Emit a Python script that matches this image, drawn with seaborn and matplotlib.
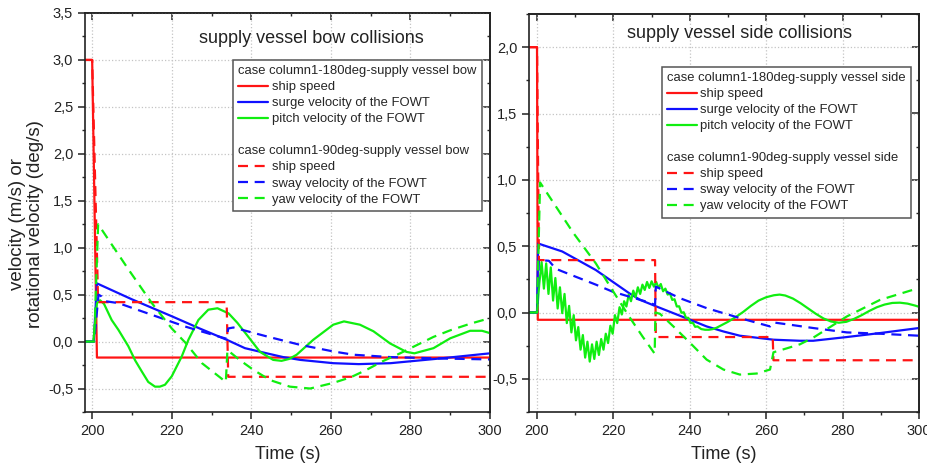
import matplotlib
matplotlib.use("Agg")
import matplotlib.pyplot as plt
import numpy as np
import pandas as pd
import seaborn as sns
from matplotlib.lines import Line2D
from matplotlib.ticker import FuncFormatter, MultipleLocator

sns.set_theme(style="ticks")
plt.rcParams['font.family'] = ['Liberation Sans', 'DejaVu Sans']

# ---------------- data: (time s, value) ----------------
# supply vessel bow collisions
bow_ship180 = [(198.2, 3.0), (200.0, 3.0), (201.2, -0.17), (300.0, -0.17)]
bow_surge = [(198.2, 0.0), (200.4, 0.0), (201.2, 0.62), (210.0, 0.45), (220.0, 0.27), (227.0, 0.14),
             (234.0, 0.016), (238.4, -0.07), (243.9, -0.125), (248.0, -0.165), (252.3, -0.195),
             (260.6, -0.23), (267.0, -0.24), (275.0, -0.23), (287.4, -0.18), (300.0, -0.125)]
bow_pitch = [(198.2, 0.0), (200.3, 0.0), (201.2, 0.41), (202.0, 0.44), (203.0, 0.40), (204.9, 0.23),
             (206.6, 0.125), (209.1, -0.05), (210.8, -0.2), (212.5, -0.32), (214.1, -0.43),
             (215.8, -0.48), (217.0, -0.48), (218.3, -0.46), (220.0, -0.37), (222.5, -0.16),
             (224.2, 0.02), (226.7, 0.23), (229.2, 0.34), (231.5, 0.355), (234.3, 0.30),
             (236.5, 0.2), (238.9, 0.07), (242.2, -0.11), (245.5, -0.195), (247.6, -0.205),
             (249.5, -0.185), (251.4, -0.14), (255.6, 0.02), (260.6, 0.18), (263.3, 0.215),
             (267.3, 0.18), (270.7, 0.11), (274.9, -0.02), (279.0, -0.11), (281.0, -0.125),
             (285.8, -0.07), (290.0, 0.035), (295.0, 0.115), (298.0, 0.115), (300.0, 0.09)]
bow_ship90 = [(198.2, 3.0), (200.0, 3.0), (201.5, 0.42), (233.8, 0.42), (234.2, -0.375), (300.0, -0.375)]
bow_sway = [(198.2, 0.0), (200.5, 0.0), (201.6, 0.5), (202.4, 0.48), (203.3, 0.43), (206.6, 0.41),
            (215.0, 0.285), (223.4, 0.16), (231.7, 0.055), (233.8, 0.03), (234.2, 0.14),
            (235.5, 0.15), (243.9, 0.055), (252.3, -0.035), (260.6, -0.105), (265.7, -0.14),
            (274.9, -0.165), (287.4, -0.18), (300.0, -0.19)]
bow_yaw = [(198.2, 0.0), (200.5, 0.0), (201.5, 1.25), (209.1, 0.77), (215.0, 0.41), (220.0, 0.14),
           (223.4, -0.01), (227.6, -0.23), (233.6, -0.43), (234.0, -0.09), (237.2, -0.2),
           (240.5, -0.30), (244.7, -0.41), (249.7, -0.48), (254.8, -0.5), (260.6, -0.44),
           (265.0, -0.38), (269.0, -0.30), (273.0, -0.21), (277.4, -0.125), (281.0, -0.05),
           (285.8, 0.05), (290.0, 0.12), (295.0, 0.19), (300.0, 0.25)]

# supply vessel side collisions
side_ship180 = [(197.9, 2.0), (200.0, 2.0), (200.2, -0.055), (300.0, -0.055)]
side_surge = [(197.9, 0.0), (200.0, 0.0), (200.3, 0.52), (206.6, 0.46), (215.4, 0.32), (224.1, 0.146),
              (227.0, 0.095), (231.3, 0.045), (235.7, -0.005), (240.1, -0.055), (244.4, -0.105),
              (248.8, -0.143), (253.1, -0.175), (257.5, -0.19), (261.9, -0.205), (268.8, -0.213),
              (272.3, -0.213), (281.1, -0.185), (289.8, -0.155), (300.0, -0.117)]
side_pitch = [(197.9, 0.0), (200.0, 0.0), (200.6, 0.22), (201.2, 0.38), (201.8, 0.18), (202.4, 0.37),
              (203.0, 0.14), (203.6, 0.34), (204.2, 0.09), (204.8, 0.26), (205.4, 0.03), (206.0, 0.19),
              (206.6, -0.005), (207.2, 0.14), (207.8, -0.08), (208.4, 0.05), (209.0, -0.15),
              (209.6, -0.02), (210.2, -0.21), (210.8, -0.11), (211.4, -0.28), (212.0, -0.17),
              (212.6, -0.34), (213.2, -0.22), (213.8, -0.37), (214.4, -0.24), (215.0, -0.35),
              (215.6, -0.22), (216.2, -0.32), (216.8, -0.20), (217.4, -0.28), (218.0, -0.16),
              (218.6, -0.23), (219.2, -0.10), (219.8, -0.16), (220.4, -0.02), (221.0, -0.08),
              (221.6, 0.04), (222.2, -0.015), (222.8, 0.085), (223.4, 0.045), (224.0, 0.135),
              (224.6, 0.085), (225.2, 0.165), (225.8, 0.115), (226.4, 0.19), (227.0, 0.14),
              (227.6, 0.21), (228.2, 0.17), (228.8, 0.23), (229.4, 0.185), (230.0, 0.235),
              (230.6, 0.195), (231.2, 0.23), (231.8, 0.185), (232.4, 0.215), (233.0, 0.16),
              (233.6, 0.18), (234.2, 0.135), (234.8, 0.145), (235.4, 0.095), (236.0, 0.10),
              (236.6, 0.045), (237.2, 0.047), (237.8, -0.002), (238.4, 0.002), (239.0, -0.04),
              (239.6, -0.04), (240.2, -0.08), (240.8, -0.077), (241.4, -0.108), (242.0, -0.105),
              (243.0, -0.125), (244.0, -0.13), (245.0, -0.13), (246.0, -0.125), (247.0, -0.115),
              (248.0, -0.10), (249.0, -0.085), (250.0, -0.07), (252.0, -0.035), (254.0, 0.005),
              (256.0, 0.05), (258.0, 0.09), (260.0, 0.115), (262.0, 0.13), (263.5, 0.135),
              (265.0, 0.128), (267.0, 0.105), (269.0, 0.07), (271.0, 0.03), (273.0, -0.01),
              (275.0, -0.045), (277.0, -0.068), (279.0, -0.077), (281.0, -0.07), (283.0, -0.048),
              (285.0, -0.02), (287.0, 0.012), (289.0, 0.04), (291.0, 0.06), (293.0, 0.072),
              (295.0, 0.074), (297.0, 0.067), (299.0, 0.052), (300.0, 0.043)]
side_ship90 = [(197.9, 2.0), (200.0, 2.0), (200.5, 0.395), (230.9, 0.395), (231.1, -0.185),
               (261.7, -0.185), (261.9, -0.36), (300.0, -0.36)]
side_sway = [(197.9, 0.0), (200.0, 0.0), (200.5, 0.395), (203.1, 0.39), (204.9, 0.33), (206.6, 0.31),
             (210.1, 0.27), (215.4, 0.21), (219.7, 0.158), (224.1, 0.12), (228.5, 0.083),
             (230.9, 0.058), (231.1, 0.195), (237.4, 0.108), (244.4, 0.033), (253.1, -0.042),
             (261.0, -0.105), (261.9, -0.075), (266.2, -0.092), (272.3, -0.117), (281.1, -0.15),
             (289.8, -0.16), (300.0, -0.175)]
side_yaw = [(197.9, 0.0), (200.0, 0.0), (200.8, 0.98), (209.5, 0.6), (215.4, 0.37), (219.7, 0.17),
            (224.1, -0.03), (227.6, -0.18), (230.8, -0.31), (231.0, 0.0), (232.2, -0.01),
            (235.7, -0.105), (240.1, -0.23), (244.4, -0.355), (248.8, -0.43), (253.1, -0.468),
            (257.5, -0.46), (261.0, -0.43), (261.9, -0.30), (265.4, -0.27), (268.8, -0.24),
            (272.3, -0.19), (276.7, -0.11), (281.1, -0.03), (289.8, 0.095), (300.0, 0.185)]

bow_labels = ["case column1-180deg-supply vessel bow", "ship speed", "surge velocity of the FOWT",
              "pitch velocity of the FOWT", "", "case column1-90deg-supply vessel bow", "ship speed",
              "sway velocity of the FOWT", "yaw velocity of the FOWT"]
side_labels = ["case column1-180deg-supply vessel side", "ship speed", "surge velocity of the FOWT",
               "pitch velocity of the FOWT", "", "case column1-90deg-supply vessel side", "ship speed",
               "sway velocity of the FOWT", "yaw velocity of the FOWT"]
titles = ["supply vessel bow collisions", "supply vessel side collisions"]
x_ticks = [200, 220, 240, 260, 280, 300]

RED, BLUE, GREEN = "#ff1414", "#1010ff", "#10ee10"
DASH = (4.5, 3.0)
LW = 1.6

fig = plt.figure(figsize=(9.28, 4.68), dpi=100)
axL = fig.add_axes([85 / 928, 56 / 468, 405 / 928, 399 / 468])
axR = fig.add_axes([529 / 928, 56 / 468, 390 / 928, 398 / 468])

comma = FuncFormatter(lambda v, p: f"{v:.1f}".replace(".", ","))


def draw(ax, series, color, dashed):
    t, v = zip(*series)
    df = pd.DataFrame({"t": t, "v": v})
    sns.lineplot(data=df, x="t", y="v", ax=ax, color=color, lw=LW,
                 estimator=None, sort=False)
    line = ax.lines[-1]
    if dashed:
        line.set_dashes(DASH)
    return line


def style_axes(ax, xlim, ylim, yticks):
    ax.set_xlim(*xlim)
    ax.set_ylim(*ylim)
    ax.set_xticks(x_ticks)
    ax.xaxis.set_minor_locator(MultipleLocator(10))
    ax.set_yticks(yticks)
    ax.yaxis.set_minor_locator(MultipleLocator(0.25))
    ax.yaxis.set_major_formatter(comma)
    ax.grid(True, which="major", color="#c4c4c4", linestyle=":", linewidth=0.9)
    ax.set_axisbelow(True)
    ax.tick_params(which="major", direction="out", length=5, width=1.1, labelsize=10.5,
                   colors="#222222")
    ax.tick_params(which="minor", direction="out", length=2.5, width=1.0)
    for s in ax.spines.values():
        s.set_color("#222222")
        s.set_linewidth(1.2)
        s.set_visible(True)
    secy = ax.secondary_yaxis("right")
    secy.set_yticks(yticks)
    secy.yaxis.set_minor_locator(MultipleLocator(0.25))
    secy.tick_params(which="major", direction="in", length=5, width=1.1, labelright=False,
                     colors="#222222")
    secy.tick_params(which="minor", direction="in", length=2.5, width=1.0)
    secy.spines["right"].set_linewidth(1.2)
    secy.spines["right"].set_color("#222222")
    secx = ax.secondary_xaxis("top")
    secx.set_xticks(x_ticks)
    secx.xaxis.set_minor_locator(MultipleLocator(10))
    secx.tick_params(which="major", direction="in", length=5, width=1.1, labeltop=False,
                     colors="#222222")
    secx.tick_params(which="minor", direction="in", length=2.5, width=1.0)
    secx.spines["top"].set_linewidth(1.2)
    secx.spines["top"].set_color("#222222")
    ax.set_xlabel("Time (s)", fontsize=13, color="#222222", labelpad=6)


def make_legend(ax, lines, labels, anchor):
    blank = Line2D([], [], alpha=0)
    handles = [blank, lines[0], lines[1], lines[2], blank, blank, lines[3], lines[4], lines[5]]
    leg = ax.legend(handles, labels, loc="upper right", bbox_to_anchor=anchor,
                    borderaxespad=0, fontsize=9.4, handlelength=2.3, handletextpad=0.25,
                    labelspacing=0.3, borderpad=0.4, fancybox=False, framealpha=1,
                    edgecolor="#555555", frameon=True)
    leg.get_frame().set_linewidth(1.1)
    # title rows: drop the handle area so the text sits flush left
    for col in leg._legend_handle_box.get_children():
        for i, item in enumerate(col.get_children()):
            if i in (0, 5):
                item._children = [item._children[1]]
    return leg


# ---- left panel ----
L = [draw(axL, bow_ship180, RED, False), draw(axL, bow_surge, BLUE, False),
     draw(axL, bow_pitch, GREEN, False), draw(axL, bow_ship90, RED, True),
     draw(axL, bow_sway, BLUE, True), draw(axL, bow_yaw, GREEN, True)]
style_axes(axL, (198.2, 300), (-0.75, 3.5), np.arange(-0.5, 3.51, 0.5))
axL.set_ylabel("velocity (m/s) or\nrotational velocity (deg/s)", fontsize=13.5, color="#222222",
               linespacing=1.1)
axL.yaxis.set_label_coords(-0.1, 0.47)
axL.text(0.56, 0.937, titles[0], transform=axL.transAxes, ha="center", va="center",
         fontsize=13, color="#222222")
make_legend(axL, L, bow_labels, (0.98, 0.882))

# ---- right panel ----
R = [draw(axR, side_ship180, RED, False), draw(axR, side_surge, BLUE, False),
     draw(axR, side_pitch, GREEN, False), draw(axR, side_ship90, RED, True),
     draw(axR, side_sway, BLUE, True), draw(axR, side_yaw, GREEN, True)]
style_axes(axR, (197.9, 300), (-0.75, 2.25), np.arange(-0.5, 2.01, 0.5))
axR.set_ylabel("")
axR.text(0.541, 0.952, titles[1], transform=axR.transAxes, ha="center", va="center",
         fontsize=13, color="#222222")
make_legend(axR, R, side_labels, (0.979, 0.867))

fig.savefig("out.png", dpi=100)
